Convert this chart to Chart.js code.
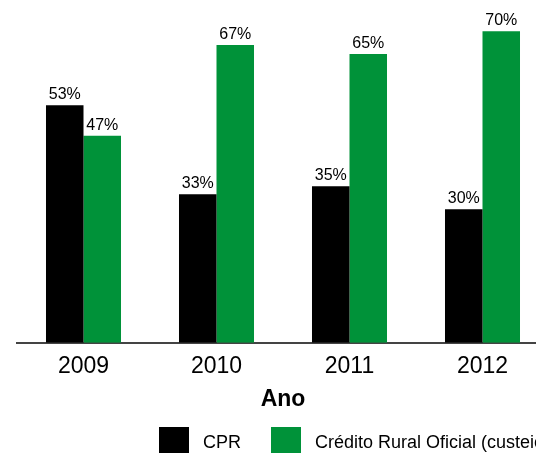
<!DOCTYPE html>
<html>
<head>
<meta charset="utf-8">
<script src="https://cdn.jsdelivr.net/npm/chart.js@4/dist/chart.umd.min.js"></script>
<style>
  html, body { margin: 0; padding: 0; background: #fff; }
  #wrap { position: relative; width: 536px; height: 453px; overflow: hidden; }
  #chart { position: absolute; left: 0; top: 0; }
  .lg-box { position: absolute; top: 427px; width: 30px; height: 30px; }
  .lg-text { position: absolute; top: 432px; font: 18px "Liberation Sans", Arial, sans-serif; color: #000; white-space: nowrap; line-height: 20px; }
</style>
</head>
<body>
<div id="wrap">
  <canvas id="chart" width="700" height="453" style="width:700px;height:453px"></canvas>
  <div class="lg-box" style="left:159px;background:#000"></div>
  <div class="lg-text" style="left:203px">CPR</div>
  <div class="lg-box" style="left:271px;background:#009239"></div>
  <div class="lg-text" style="left:315px">Crédito Rural Oficial (custeio)</div>
</div>
<script>
// values (% share per year)
const years = ['2009', '2010', '2011', '2012'];
const cpr = [53.4, 33.4, 35.2, 30];
const creditoRural = [46.5, 66.9, 64.9, 70];

const FONT = '"Liberation Sans", Arial, sans-serif';

// draw the percentage above every bar
const barLabels = {
  id: 'barLabels',
  afterDatasetsDraw(chart) {
    const ctx = chart.ctx;
    ctx.save();
    ctx.font = '16px ' + FONT;
    ctx.fillStyle = '#000';
    ctx.textAlign = 'center';
    ctx.textBaseline = 'alphabetic';
    chart.data.datasets.forEach((ds, i) => {
      chart.getDatasetMeta(i).data.forEach((bar, j) => {
        ctx.fillText(Math.round(ds.data[j]) + '%', bar.x, bar.y - 6);
      });
    });
    ctx.restore();
  }
};

new Chart(document.getElementById('chart'), {
  type: 'bar',
  data: {
    labels: years,
    datasets: [
      { label: 'CPR', data: cpr, backgroundColor: '#000000' },
      { label: 'Crédito Rural Oficial (custeio)', data: creditoRural, backgroundColor: '#009239' }
    ]
  },
  options: {
    responsive: false,
    animation: false,
    categoryPercentage: 0.564,
    barPercentage: 1,
    layout: { padding: { left: 17, right: 151, top: 9, bottom: 40 } },
    plugins: {
      legend: { display: false },
      tooltip: { enabled: false }
    },
    scales: {
      x: {
        grid: { display: false },
        border: { display: true, color: '#444', width: 2 },
        ticks: { color: '#000', padding: 2, font: { family: FONT, size: 23 } },
        title: {
          display: true,
          text: 'Ano',
          color: '#000',
          padding: { top: 3, bottom: 0 },
          font: { family: FONT, size: 23, weight: 'bold' }
        }
      },
      y: {
        display: false,
        min: 0,
        max: 75
      }
    }
  },
  plugins: [barLabels]
});
</script>
</body>
</html>
